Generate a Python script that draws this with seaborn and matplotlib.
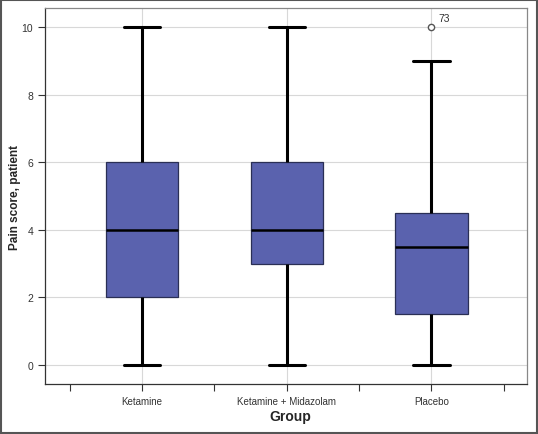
import pandas as pd
import numpy as np
import matplotlib.pyplot as plt
import seaborn as sns

# Group values (chosen so the box stats match)
groups = ['Ketamine', 'Ketamine + Midazolam', 'Placebo']
ketamine = [0, 2, 4, 6, 10]
ket_midazolam = [0, 3, 4, 6, 10]
placebo = [0, 1, 1.5, 3, 3.5, 4, 4.5, 9, 10]
outlier_label = '73'
y_ticks = [0, 2, 4, 6, 8, 10]

df = pd.DataFrame({
    'Group': [groups[0]] * len(ketamine) + [groups[1]] * len(ket_midazolam) + [groups[2]] * len(placebo),
    'Pain': ketamine + ket_midazolam + placebo,
})

sns.set_style('white')
plt.rcParams['font.family'] = ['Liberation Sans', 'DejaVu Sans']

fig = plt.figure(figsize=(5.38, 4.35), dpi=100)
ax = fig.add_axes([45 / 538, 1 - 385 / 435, 482 / 538, 376 / 435])

sns.boxplot(data=df, x='Group', y='Pain', order=groups, ax=ax, width=0.5,
            color='#5a62ae', saturation=1, linewidth=1.0,
            boxprops=dict(facecolor='#5a62ae', edgecolor='#2a2f55', linewidth=0.9),
            whiskerprops=dict(color='black', linewidth=2.2),
            capprops=dict(color='black', linewidth=2.2),
            medianprops=dict(color='black', linewidth=1.8),
            flierprops=dict(marker='o', markersize=4.5, markerfacecolor='white',
                            markeredgecolor='#555555', markeredgewidth=1.0),
            zorder=3)

# outlier label
ax.annotate(outlier_label, xy=(2, 10), xytext=(5, 4), textcoords='offset points',
            fontsize=7.5, color='#333333')

ax.set_xlim(-0.67, 2.66)
ax.set_ylim(-0.56, 10.56)
ax.set_yticks(y_ticks)
ax.set_xticks([0, 1, 2])
ax.set_xticklabels(groups, fontsize=7)
ax.set_xticks([-0.5, 0.5, 1.5, 2.5], minor=True)
ax.tick_params(axis='y', labelsize=7.5, length=5, width=0.8, direction='out', left=True, colors='#333333')
ax.tick_params(axis='x', which='both', length=5, width=0.8, direction='out', bottom=True, colors='#333333')

ax.grid(True, which='major', color='#d8d8d8', linewidth=0.8, zorder=0)
ax.set_axisbelow(True)
for s in ax.spines.values():
    s.set_color('#333333')
    s.set_linewidth(0.9)
ax.spines['right'].set_color('#888888')
ax.spines['top'].set_color('#888888')

ax.set_xlabel('Group', fontsize=10, fontweight='bold')
ax.set_ylabel('Pain score, patient', fontsize=8.5, fontweight='bold')
ax.xaxis.set_label_coords(0.508, -0.066)
ax.yaxis.set_label_coords(-0.05, 0.5)

# outer frame
fig.patches.append(plt.Rectangle((0.001, 0.002), 0.997, 0.996, transform=fig.transFigure,
                                 fill=False, edgecolor='#555555', linewidth=1.5))

plt.savefig('out.png', dpi=100)
